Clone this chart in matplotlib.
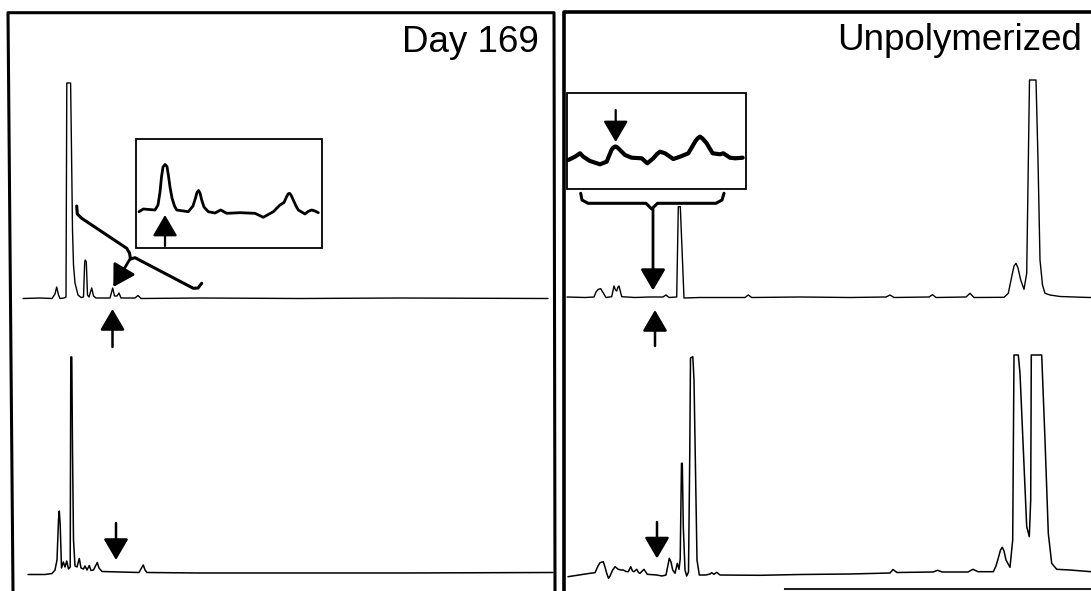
import matplotlib.pyplot as plt
from matplotlib.patches import Rectangle

# ---------------- traces (x = position, y = signal, in image px) -------------

# Day 169, upper trace
day_top = [(23, 298.5), (40, 298), (52, 298.5), (55, 294), (56.7, 287), (58.5, 295), (60, 298.5),
           (64, 298), (66, 297), (66.8, 83), (70.6, 83), (71.5, 150), (72.5, 230), (73.5, 265),
           (75, 283), (78, 295), (81, 297.5), (83.5, 297), (84.7, 262), (85.3, 260), (86.3, 262),
           (87.5, 295), (89, 297), (91.7, 288), (93.5, 296), (96, 298), (110, 298), (112.7, 288),
           (114.5, 296), (117, 296), (119, 293), (121, 298), (135, 298), (138, 295.5), (141, 298.5),
           (200, 298), (300, 298.5), (400, 298), (548, 298.5)]

# Day 169, lower trace
day_bot = [(28, 574.5), (45, 574.5), (52, 573.5), (55, 570), (57, 560), (58.5, 520), (59.3, 511),
           (60.2, 525), (61.5, 568), (63.3, 562), (65, 567), (66.7, 561), (68.5, 569), (70.2, 567),
           (70.8, 357), (71.8, 357), (72.5, 450), (73.5, 540), (75, 566), (77, 567), (79.3, 558.5),
           (81, 568), (83.5, 569), (85, 566), (87, 570), (89.3, 565.5), (91, 570.5), (93.5, 570),
           (95.5, 566), (97.3, 562.5), (99, 568), (102, 571.5), (120, 572), (139, 572.5),
           (141.5, 568), (143.3, 565), (145, 570), (147, 572.5), (200, 573), (300, 573),
           (400, 573), (553, 572.5)]

# Day 169, inset (zoomed region)
day_inset = [(139, 211.7), (143.3, 209), (155, 210), (158, 205), (160, 192), (161.5, 177),
             (163, 167), (165, 164.5), (167, 166.5), (168.5, 176), (170, 187), (172, 198),
             (174.5, 206), (176.7, 210), (188.3, 211.7), (193, 206), (195.5, 198), (197, 192.5),
             (198.5, 190.5), (200, 193), (201.7, 200), (204, 207), (208.3, 211.7), (215, 213),
             (220.7, 210), (226.7, 213.3), (240, 212.7), (255, 213.3), (263.3, 217.3),
             (273.3, 211.7), (280, 205), (284, 202.5), (286.5, 197), (288, 194), (289.5, 193.3),
             (291, 195), (293.3, 200), (296, 206), (298.3, 210), (305, 214), (308, 211.5),
             (311.7, 210), (315, 211), (318.3, 212.7)]

# Unpolymerized, upper trace
unp_top = [(567, 297), (585, 297.5), (594, 297), (596, 292), (598.3, 289.3), (600.7, 288.7),
           (603.3, 293), (606, 297.5), (611.7, 296.7), (614, 286), (615.5, 290), (616.7, 291),
           (618, 287), (619, 286), (621.7, 296.7), (635, 297.5), (650, 297), (663, 297),
           (666, 295), (669, 297.5), (676.7, 297), (678.3, 206.7), (680.3, 206.7), (684, 298),
           (700, 297.5), (745, 297.5), (748.3, 295), (751.7, 297.5), (800, 297), (850, 297.5),
           (886, 297), (890, 295), (894, 297.5), (929, 297), (932.5, 294.7), (936, 297.5),
           (966, 297), (970, 293.3), (974, 297.5), (1004, 297.3), (1008.3, 293.3), (1011.7, 276.7),
           (1014, 266), (1016, 263.3), (1018, 268), (1020.7, 280), (1024, 289.3), (1026.7, 273.3),
           (1029.5, 80), (1031, 80), (1036, 80), (1038, 160), (1040, 260), (1042.5, 285),
           (1045, 293.3), (1050, 295), (1060, 296.5), (1083, 297.3), (1091, 297.5)]

# Unpolymerized, lower trace
unp_bot = [(568, 576.7), (590, 573.3), (595, 572.7), (598, 566), (600, 562.7), (603.3, 561.7),
           (605, 567), (606.7, 573.3), (608.5, 578.3), (610, 576), (612.7, 570), (615, 566.7),
           (618.3, 569.3), (621, 570), (623.3, 570), (626, 571.5), (628.3, 571.7), (630.7, 566.7),
           (632.5, 571), (634, 571.7), (636.7, 569.3), (638.5, 572.5), (640, 573.3), (644, 569.3),
           (647.3, 574.3), (656.7, 575), (662, 576), (666, 575), (668, 565), (669.3, 558.3),
           (671, 562), (672.7, 570), (675, 573.3), (677.3, 563.3), (679, 569.3), (680.2, 559),
           (681.5, 463.3), (682.3, 463.3), (683.3, 526.7), (685, 570), (686.7, 576), (688.5, 572),
           (689.8, 450), (690.5, 358), (692.8, 356.7), (694, 380), (695.5, 470), (697, 560),
           (699.3, 575), (706, 575), (710, 574), (711.7, 572.7), (714, 574.3), (716.7, 572.3),
           (720, 575), (760, 575.3), (800, 574.5), (850, 574), (890, 573), (893, 569.5),
           (897, 572.5), (933, 572), (937.6, 570.3), (942, 572), (968, 572), (973, 569.3),
           (978, 571.7), (993.3, 571.7), (996, 566), (998.3, 558), (1000.5, 550), (1002.3, 547.3),
           (1004, 551), (1006, 560), (1010, 567.3), (1012.7, 540), (1014, 355), (1018.3, 355),
           (1020, 373.3), (1026.7, 526.7), (1029.3, 536.7), (1030.7, 500), (1031.3, 355),
           (1041.7, 355), (1045, 440), (1048.3, 533.3), (1051.7, 563.3), (1056.7, 569.3),
           (1070, 570), (1091, 571.7)]

# Unpolymerized, inset (zoomed region)
unp_inset = [(568.3, 160), (575, 156.7), (580, 153.3), (583.3, 156.7), (590, 161), (600, 164.3),
             (606.7, 161.7), (609, 156), (611.5, 150), (613.5, 147.3), (615.5, 146.5),
             (617.5, 147.5), (620, 150), (625, 155), (631.7, 157.7), (641.7, 158.3), (647.3, 163.3),
             (653.3, 158.3), (657, 154), (660, 151.7), (665, 153.3), (673.3, 159), (680, 156.7),
             (688.3, 153.3), (692, 147), (695.5, 141), (698, 138), (700, 136.7), (702.5, 138.5),
             (706.7, 143.3), (710, 149), (712.7, 153.3), (720, 154.3), (723.3, 153.3), (730, 157.7),
             (735, 158.3), (742.7, 157.7)]

labels = ['Day 169', 'Unpolymerized']

fig = plt.figure(figsize=(10.91, 5.91), dpi=100)
ax = fig.add_axes([0, 0, 1, 1])
ax.set_xlim(0, 1091)
ax.set_ylim(591, 0)
ax.axis('off')


def trace(pts, lw):
    xs = [p[0] for p in pts]
    ys = [p[1] for p in pts]
    ax.plot(xs, ys, color='black', lw=lw, solid_joinstyle='round', solid_capstyle='round')


trace(day_top, 1.0)
trace(day_bot, 1.1)
trace(unp_top, 1.0)
trace(unp_bot, 1.1)
trace(day_inset, 2.0)
trace(unp_inset, 3.0)

# panel frames
ax.plot([13, 8, 554, 555], [591, 12.7, 12.7, 591], color='black', lw=2.2)
ax.plot([564, 564, 1091], [591, 12, 12], color='black', lw=2.6)
ax.plot([785, 1091], [589, 589], color='#222222', lw=1.5)

# inset boxes
ax.add_patch(Rectangle((136, 139), 186, 109, fill=False, ec='black', lw=1.3))
ax.add_patch(Rectangle((566.5, 93), 179, 96, fill=False, ec='black', lw=1.3))

ax.text(539, 52, labels[0], ha='right', va='baseline', fontsize=26.5, family='Liberation Sans')
ax.text(1081.5, 50, labels[1], ha='right', va='baseline', fontsize=26.5, family='Liberation Sans')


def arrow(tail, tip, lw=1.8, hl=0.65, hw=0.38):
    ax.annotate('', xy=tip, xytext=tail,
                arrowprops=dict(arrowstyle='-|>,head_length=%s,head_width=%s' % (hl, hw),
                                lw=lw, color='black', mutation_scale=20,
                                shrinkA=0, shrinkB=0))


# arrows marking the peak of interest
arrow((112.5, 347), (112.5, 309))
arrow((116, 523), (116, 560))
arrow((655, 346), (655, 310))
arrow((657, 522), (657, 558.5))
arrow((165, 246), (165, 215), lw=1.6)
arrow((615.7, 110), (615.7, 142), lw=1.6)

# braces linking the inset to the trace
ax.plot([76.7, 77.3, 81.7, 126.7, 129.5, 130.5],
        [206, 214, 218.3, 248.3, 253, 259], color='black', lw=2.2,
        solid_capstyle='round', solid_joinstyle='round')
ax.plot([130.5, 135, 193.3, 198, 201.7],
        [259, 257.7, 288.3, 288, 283.3], color='black', lw=2.2,
        solid_capstyle='round', solid_joinstyle='round')
arrow((130, 259), (113.3, 287), lw=2.0)

ax.plot([580.7, 582, 588, 646, 651.7, 657.5, 716, 722, 724],
        [193.3, 200, 203.3, 203.3, 209, 203.3, 203.3, 200, 193.3], color='black', lw=2.2,
        solid_capstyle='round', solid_joinstyle='round')
arrow((653, 209), (653, 290.5), lw=2.0)

fig.savefig('out.png', dpi=100)
